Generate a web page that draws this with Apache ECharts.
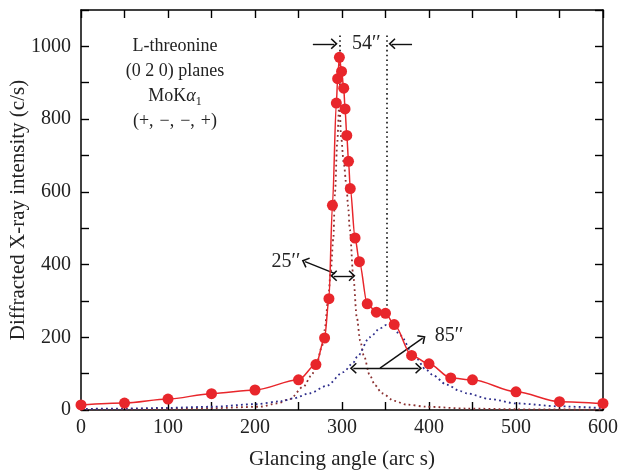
<!DOCTYPE html>
<html><head><meta charset="utf-8">
<script src="https://cdn.jsdelivr.net/npm/echarts@6/dist/echarts.min.js"></script>
<style>html,body{margin:0;padding:0;background:#fff}#c{width:620px;height:474px}</style>
</head><body><div id="c"></div>
<script>
// Measured points (glancing angle in arc s, intensity in c/s)
const angles    = [0, 50, 100, 150, 200, 250, 270, 280, 285, 289, 293.5, 295, 297, 299.5, 302, 303.5, 305.5, 307.5, 309.5, 315, 320, 329, 339.5, 350, 360, 380, 400, 425, 450, 500, 550, 600];
const intensity = [14, 19, 30, 45, 55, 83, 125, 198, 306, 563, 844, 911, 970, 931, 885, 828, 755, 684, 609, 473, 408, 292, 269, 266, 235, 150, 127, 88, 83, 50, 23, 18];

// Narrow component (dark red dotted)
const narrowX = [0, 50, 100, 150, 206, 225, 240, 255.5, 265, 271, 277, 280, 284, 287, 290, 292, 294.5, 297, 299, 302, 305, 307, 309, 313, 317, 321, 325, 332, 338, 346, 360, 374, 397, 443, 500, 600];
const narrowY = [2, 2, 3, 5, 9, 18, 30, 64, 95, 128, 175, 220, 300, 380, 470, 600, 735, 850, 750, 680, 620, 561, 496, 367, 255, 190, 150, 95, 68, 46, 25, 15, 9, 4, 2, 1];

// Broad component (navy dotted)
const broadX = [0, 50, 100, 150, 200, 230, 244, 263, 282, 301.5, 313, 317, 332, 344, 351, 359, 367, 382, 397, 405, 420, 436, 443, 470, 501, 550, 600];
const broadY = [3, 4, 6, 9, 16, 24, 32, 46, 66, 104, 130, 145, 200, 225, 234, 228, 205, 153, 110, 95, 70, 52, 46, 30, 18, 10, 5];

const xMin = 0, xMax = 600, xStep = 50, xLabelStep = 100;
const yMin = 0, yMax = 1100, yStep = 100, yLabelStep = 200, yLabelMax = 1000;

const F = 'Liberation Serif';
const INK = '#222';
const pairs = (xs, ys) => xs.map((x, i) => [x, ys[i]]);
const chevron = 'path://M6,0L12,6.2L10.9,7.3L6,2.5L1.1,7.3L0,6.2Z';

function seg(a, b, s1, s2, style) {
  return [
    {coord: a, symbol: s1 || 'none', symbolSize: [11, 7]},
    {coord: b, symbol: s2 || 'none', symbolSize: [11, 7], lineStyle: style}
  ];
}
const solid = {color: '#111', width: 1.4, type: 'solid'};
const dots = {color: '#111', width: 1.6, type: [1.6, 3.2]};

const tickStyle = {color: '#000', width: 1.4};
const axisLineStyle = {color: '#000', width: 1.5};

const chart = echarts.init(document.getElementById('c'));
chart.setOption({
  animation: false,
  backgroundColor: '#fff',
  grid: {left: 81, right: 17, top: 10, bottom: 64, containLabel: false, outerBoundsMode: 'none'},
  xAxis: [{
    type: 'value', min: xMin, max: xMax, interval: xStep, position: 'bottom',
    axisLine: {onZero: false, lineStyle: axisLineStyle},
    axisTick: {inside: true, length: 8, interval: 0, lineStyle: tickStyle},
    axisLabel: {interval: 0, formatter: v => (v % xLabelStep === 0 ? String(v) : ''), fontFamily: F, fontSize: 20, color: INK, margin: 8},
    splitLine: {show: false},
    name: 'Glancing angle (arc s)', nameLocation: 'middle', nameGap: 39,
    nameTextStyle: {fontFamily: F, fontSize: 21, color: INK}
  }, {
    type: 'value', min: xMin, max: xMax, interval: xStep, position: 'top',
    axisLine: {onZero: false, lineStyle: axisLineStyle},
    axisTick: {inside: true, length: 8, interval: 0, lineStyle: tickStyle},
    axisLabel: {show: false}, splitLine: {show: false}
  }],
  yAxis: [{
    type: 'value', min: yMin, max: yMax, interval: yStep, position: 'left',
    axisLine: {show: true, onZero: false, lineStyle: axisLineStyle},
    axisTick: {show: true, inside: true, length: 8, interval: 0, lineStyle: tickStyle},
    axisLabel: {interval: 0, formatter: v => (v % yLabelStep === 0 && v <= yLabelMax ? String(v) : ''), fontFamily: F, fontSize: 20, color: INK, margin: 10},
    splitLine: {show: false},
    name: 'Diffracted X-ray intensity (c/s)', nameLocation: 'middle', nameGap: 52, nameMoveOverlap: false,
    nameTextStyle: {fontFamily: F, fontSize: 21, color: INK}
  }, {
    type: 'value', min: yMin, max: yMax, interval: yStep, position: 'right',
    axisLine: {show: true, onZero: false, lineStyle: axisLineStyle},
    axisTick: {show: true, inside: true, length: 8, interval: 0, lineStyle: tickStyle},
    axisLabel: {show: false}, splitLine: {show: false}
  }],
  series: [{
    name: 'narrow', type: 'line', data: pairs(narrowX, narrowY), smooth: 0.3, smoothMonotone: 'x',
    symbol: 'none', lineStyle: {color: '#8a3030', width: 1.8, type: [1.8, 3.2]}, z: 2
  }, {
    name: 'broad', type: 'line', data: pairs(broadX, broadY), smooth: 0.3, smoothMonotone: 'x',
    symbol: 'none', lineStyle: {color: '#2e2e8c', width: 1.8, type: [1.8, 3.2]}, z: 2
  }, {
    name: 'measured', type: 'line', data: pairs(angles, intensity), smooth: 0.3, smoothMonotone: 'x',
    symbol: 'circle', symbolSize: 11, itemStyle: {color: '#e8262b'},
    lineStyle: {color: '#e8262b', width: 1.5}, z: 5,
    markLine: {
      silent: true, animation: false, symbol: 'none', label: {show: false},
      lineStyle: solid,
      data: [
        seg([297, 1030], [297, 880], 'none', 'none', dots),
        seg([351.5, 1030], [351.5, 268], 'none', 'none', dots),
        seg([266.5, 1007], [291, 1007], 'none', chevron, solid),
        seg([380.5, 1007], [357.5, 1007], 'none', chevron, solid),
        seg([292, 375], [257.5, 408], 'none', chevron, solid),
        seg([290.5, 369], [311.5, 369], chevron, chevron, solid),
        seg([343.7, 115], [392.7, 197.5], 'none', chevron, solid),
        seg([313, 115], [388, 115], chevron, chevron, solid)
      ]
    }
  }]
});

function px(x, y) { return chart.convertToPixel({gridIndex: 0}, [x, y]); }
function txt(x, y, text, size, rich) {
  const p = px(x, y);
  return {type: 'text', x: p[0], y: p[1], z: 10,
    style: {text: text, fontFamily: F, fontSize: size, fill: INK, align: 'center', verticalAlign: 'middle', rich: rich}};
}
const tx = 108;
chart.setOption({graphic: [
  txt(tx, 1000, 'L-threonine', 18),
  txt(tx, 931, '(0 2 0) planes', 18),
  txt(tx, 862, '{m|MoK}{i|α}{s|1}', 18, {
    m: {fontFamily: F, fontSize: 18, fill: INK, verticalAlign: 'middle', lineHeight: 22},
    i: {fontFamily: F, fontSize: 18, fill: INK, fontStyle: 'italic', verticalAlign: 'middle', lineHeight: 22},
    s: {fontFamily: F, fontSize: 12, fill: INK, verticalAlign: 'bottom', lineHeight: 12}
  }),
  txt(tx, 793, '(+,\u2004−,\u2004−,\u2004+)', 18),
  txt(328, 1007, '54′′', 20),
  txt(235.5, 408, '25′′', 20),
  txt(423, 205, '85′′', 20)
]});
</script>
</body></html>
